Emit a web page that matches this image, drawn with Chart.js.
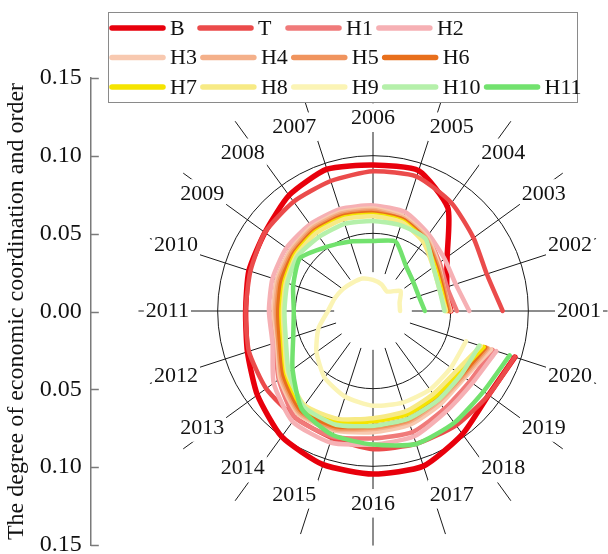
<!DOCTYPE html>
<html>
<head>
<meta charset="utf-8">
<script src="https://cdn.jsdelivr.net/npm/chart.js@4/dist/chart.umd.min.js"></script>
<style>
  html, body { margin: 0; padding: 0; background: #fff; }
  canvas { display: block; }
  .font-warm { position: absolute; left: -1000px; top: 0; font-family: "Liberation Serif"; font-size: 22px; }
</style>
</head>
<body>
<canvas id="chart" width="608" height="554"></canvas>
<span class="font-warm">2006 H10 0.15 The degree</span>
<script>
// Years, listed chronologically; 2001 sits on the right and the years run anticlockwise.
const years = ['2001','2002','2003','2004','2005','2006','2007','2008','2009','2010',
               '2011','2012','2013','2014','2015','2016','2017','2018','2019','2020'];

// Degree of economic coordination and order, one value per year (2001 -> 2020).
const B   = [0.050, 0.050, 0.059, 0.082, 0.095, 0.094, 0.096, 0.092, 0.086, 0.084, 0.082, 0.085, 0.092, 0.100, 0.104, 0.105, 0.105, 0.098, 0.092, 0.096];
const T   = [0.0835, 0.077, 0.080, 0.086, 0.091, 0.090, 0.088, 0.087, 0.086, 0.083, 0.082, 0.084, 0.085, 0.085, 0.086, 0.089, 0.090, 0.091, 0.092, 0.096];
const H1  = [0.054, 0.050, 0.053, 0.059, 0.064, 0.066, 0.067, 0.067, 0.066, 0.065, 0.064, 0.066, 0.075, 0.085, 0.085, 0.082, 0.082, 0.078, 0.077, 0.081];
const H2  = [0.062, 0.056, 0.057, 0.061, 0.067, 0.068, 0.069, 0.069, 0.069, 0.068, 0.067, 0.068, 0.079, 0.088, 0.089, 0.086, 0.085, 0.080, 0.079, 0.0835];
const H3  = [0.050, 0.048, 0.052, 0.059, 0.064, 0.066, 0.067, 0.067, 0.066, 0.065, 0.064, 0.065, 0.074, 0.082, 0.081, 0.078, 0.077, 0.074, 0.073, 0.080];
const H4  = [0.049, 0.047, 0.051, 0.058, 0.063, 0.065, 0.066, 0.066, 0.065, 0.064, 0.063, 0.064, 0.073, 0.081, 0.080, 0.076, 0.075, 0.072, 0.072, 0.078];
const H5  = [0.049, 0.048, 0.051, 0.0575, 0.062, 0.064, 0.065, 0.065, 0.064, 0.063, 0.062, 0.064, 0.072, 0.080, 0.079, 0.075, 0.074, 0.071, 0.071, 0.077];
const H6  = [0.048, 0.047, 0.050, 0.057, 0.062, 0.063, 0.064, 0.064, 0.063, 0.062, 0.061, 0.063, 0.071, 0.079, 0.078, 0.074, 0.073, 0.070, 0.070, 0.076];
const H7  = [0.047, 0.046, 0.049, 0.056, 0.061, 0.062, 0.063, 0.063, 0.062, 0.060, 0.059, 0.061, 0.069, 0.077, 0.075, 0.071, 0.070, 0.068, 0.068, 0.075];
const H8  = [0.047, 0.045, 0.048, 0.055, 0.060, 0.061, 0.062, 0.062, 0.061, 0.059, 0.058, 0.060, 0.068, 0.075, 0.073, 0.069, 0.068, 0.066, 0.066, 0.073];
const H9  = [0.0174, 0.018, 0.022, 0.0155, 0.018, 0.020, 0.022, 0.0225, 0.024, 0.026, 0.029, 0.037, 0.045, 0.053, 0.058, 0.061, 0.062, 0.0625, 0.062, 0.063];
const H10 = [0.046, 0.045, 0.048, 0.0575, 0.058, 0.058, 0.059, 0.059, 0.060, 0.058, 0.057, 0.059, 0.067, 0.076, 0.077, 0.074, 0.073, 0.071, 0.070, 0.072];
const H11 = [0.0334, 0.031, 0.032, 0.036, 0.047, 0.045, 0.047, 0.051, 0.058, 0.054, 0.051, 0.054, 0.064, 0.078, 0.084, 0.086, 0.090, 0.089, 0.088, 0.0925];

const seriesNames  = ['B', 'T', 'H1', 'H2', 'H3', 'H4', 'H5', 'H6', 'H7', 'H8', 'H9', 'H10', 'H11'];
const seriesValues = [B, T, H1, H2, H3, H4, H5, H6, H7, H8, H9, H10, H11];
const seriesColors = ['#e8000c', '#eb4b4b', '#f07a7a', '#f6b0b4', '#f8c9b0', '#f4b08a', '#f0945e',
                      '#e86f1c', '#f5e400', '#f7ea85', '#fbf4b5', '#b5f0aa', '#72e26e'];

// Legend rows
const legendRows = [['B', 'T', 'H1', 'H2'], ['H3', 'H4', 'H5', 'H6'], ['H7', 'H8', 'H9', 'H10', 'H11']];

// Radial guides
const spokeFrom = 0.025;
const spokeTo = 0.151;

const SERIF = '"Liberation Serif", "Times New Roman", Times, serif';

// The radar scale runs clockwise, so years are fed newest-first.
const labelsCW = years.slice().reverse();

const datasets = seriesNames.map((name, i) => ({
  label: name,
  data: seriesValues[i].slice().reverse(),
  borderColor: seriesColors[i],
  backgroundColor: seriesColors[i],
  borderWidth: i === 0 ? 5.5 : 4.5,
  fill: false,
  pointRadius: 0,
  pointHoverRadius: 0,
  tension: 0.2,
  borderCapStyle: 'round',
  borderJoinStyle: 'round',
  order: seriesNames.length - 1 - i
}));

// Leave each curve open between its first and last year.
const openCurves = {
  id: 'openCurves',
  afterDatasetsUpdate(chart) {
    chart.getSortedVisibleDatasetMetas().forEach(meta => {
      const line = meta.dataset;
      if (!line) return;
      line._loop = false;
      line._fullLoop = false;
      line._segments = undefined;
      line._path = undefined;
      line._pointsUpdated = false;
    });
  }
};

// Year spokes, starting a little away from the centre.
const yearSpokes = {
  id: 'yearSpokes',
  beforeDraw(chart) {
    const r = chart.scales.r;
    const ctx = chart.ctx;
    const d0 = r.getDistanceFromCenterForValue(spokeFrom);
    const d1 = r.getDistanceFromCenterForValue(spokeTo);
    ctx.save();
    ctx.strokeStyle = '#1a1a1a';
    ctx.lineWidth = 1;
    labelsCW.forEach((_, i) => {
      const a = r.getPointPosition(i, d0);
      const b = r.getPointPosition(i, d1);
      ctx.beginPath();
      ctx.moveTo(a.x, a.y);
      ctx.lineTo(b.x, b.y);
      ctx.stroke();
    });
    ctx.restore();
  }
};

// Inward tick marks on the value axis.
const inwardTicks = {
  id: 'inwardTicks',
  afterDraw(chart) {
    const y = chart.scales.y;
    const ctx = chart.ctx;
    ctx.save();
    ctx.strokeStyle = '#7a7a7a';
    ctx.lineWidth = 1.5;
    y.ticks.forEach(t => {
      const py = Math.round(y.getPixelForValue(t.value)) + 0.5;
      ctx.beginPath();
      ctx.moveTo(y.right, py);
      ctx.lineTo(y.right + 8, py);
      ctx.stroke();
    });
    ctx.restore();
  }
};

// Boxed legend laid over the top of the plot.
const boxLegend = {
  id: 'boxLegend',
  afterDraw(chart) {
    const ctx = chart.ctx;
    const box = { left: 108, top: 12, width: 469, height: 90 };
    ctx.save();
    ctx.fillStyle = '#fff';
    ctx.fillRect(box.left, box.top, box.width, box.height);
    ctx.strokeStyle = '#8a8a8a';
    ctx.lineWidth = 1;
    ctx.strokeRect(box.left + 0.5, box.top + 0.5, box.width, box.height);
    ctx.font = '22px ' + SERIF;
    ctx.textBaseline = 'middle';
    ctx.textAlign = 'left';
    legendRows.forEach((names, row) => {
      let x = box.left + 1;
      const yy = box.top + 16 + row * 29.5;
      names.forEach(name => {
        const ds = chart.data.datasets.find(d => d.label === name);
        ctx.strokeStyle = ds.borderColor;
        ctx.lineWidth = 5.5;
        ctx.lineCap = 'round';
        ctx.beginPath();
        ctx.moveTo(x + 3, yy);
        ctx.lineTo(x + 54, yy);
        ctx.stroke();
        ctx.fillStyle = '#111';
        ctx.fillText(name, x + 61, yy + 1);
        const w = ctx.measureText(name).width;
        x += Math.max(88, 61 + w + 3);
      });
    });
    ctx.restore();
  }
};

function build() {
  new Chart(document.getElementById('chart'), {
    type: 'radar',
    data: { labels: labelsCW, datasets },
    plugins: [openCurves, yearSpokes, inwardTicks, boxLegend],
    options: {
      responsive: false,
      animation: false,
      events: [],
      layout: { padding: { top: 78, bottom: 9, left: 0, right: 0 } },
      plugins: { legend: { display: false }, tooltip: { enabled: false } },
      scales: {
        r: {
          min: 0,
          max: 0.15,
          startAngle: 108,
          afterSetDimensions: s => { s.xCenter = s.right - s.drawingArea - 2; },
          ticks: { display: false, stepSize: 0.05 },
          grid: {
            circular: true,
            color: '#1a1a1a',
            lineWidth: c => (c.tick && c.tick.value > 0.12 ? 0 : 1)
          },
          angleLines: { display: false },
          pointLabels: {
            display: true,
            padding: -49,
            color: '#111',
            font: { family: SERIF, size: 22, lineHeight: 0.8 },
            backdropColor: '#fff',
            backdropPadding: { left: 2, right: 2, top: 6, bottom: 5 }
          }
        },
        y: {
          type: 'linear',
          position: 'left',
          min: -0.15,
          max: 0.15,
          afterFit: s => { s.paddingTop = 0; s.paddingBottom = 0; },
          ticks: {
            stepSize: 0.05,
            padding: 9,
            color: '#111',
            font: { family: SERIF, size: 24 },
            callback: v => Math.abs(v).toFixed(2)
          },
          grid: { display: false, drawTicks: false },
          border: { display: true, color: '#7a7a7a', width: 1.5 },
          title: {
            display: true,
            text: 'The degree of economic coordination and order',
            color: '#111',
            font: { family: SERIF, size: 24 },
            padding: { top: 2, bottom: 0 }
          }
        }
      }
    }
  });
}

const fontReady = document.fonts && document.fonts.load
  ? Promise.all([document.fonts.load('22px "Liberation Serif"'), document.fonts.ready]).catch(() => {})
  : Promise.resolve();
fontReady.then(build, build);
</script>
</body>
</html>
